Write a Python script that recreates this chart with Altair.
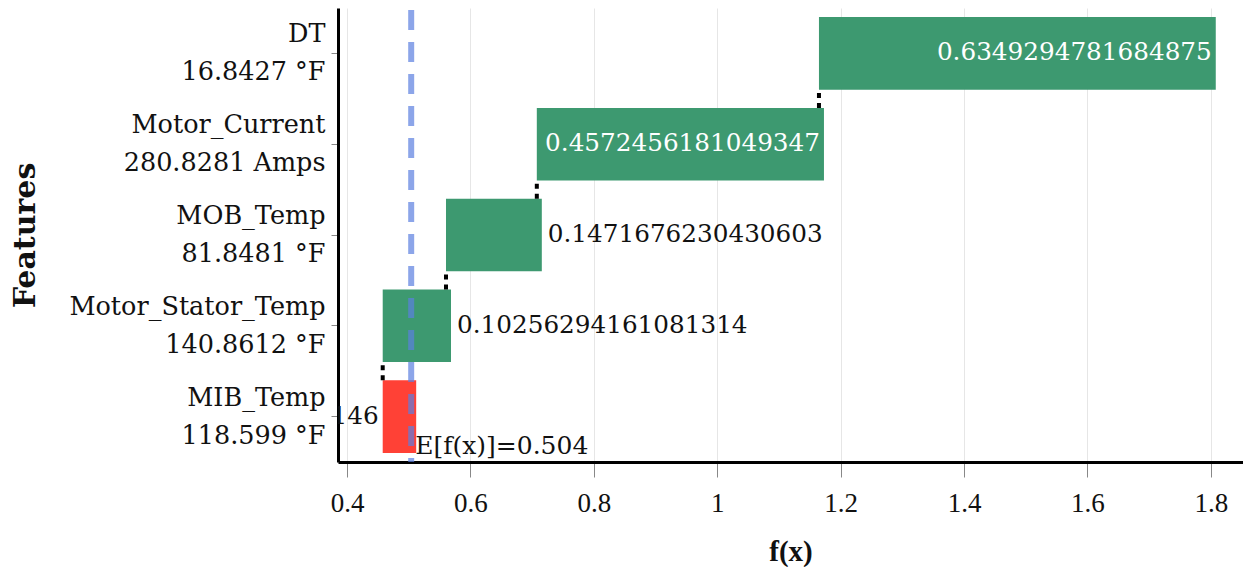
import altair as alt
import pandas as pd

features = ["DT", "Motor_Current", "MOB_Temp", "Motor_Stator_Temp", "MIB_Temp"]
feature_values = ["16.8427 °F", "280.8281 Amps", "81.8481 °F", "140.8612 °F", "118.599 °F"]
shap_values = [0.6349294781684875, 0.4572456181049347, 0.1471676230430603,
               0.10256294161081314, -0.04614762391011146]
base_value = 0.504
x_ticks = [0.4, 0.6, 0.8, 1.0, 1.2, 1.4, 1.6, 1.8]

GREEN = "#3D9970"
RED = "#FF4136"
SERIF = "DejaVu Serif"

# waterfall accumulates from the bottom feature upwards
rows = []
cur = base_value
for f, fv, s in reversed(list(zip(features, feature_values, shap_values))):
    start, end = cur, cur + s
    cur = end
    if abs(s) > 0.3:
        pos = "inside"
    elif s >= 0:
        pos = "right"
    else:
        pos = "left"
    rows.append({
        "feature": f,
        "shap": s,
        "text": repr(s),
        "start": start,
        "end": end,
        "lo": min(start, end),
        "hi": max(start, end),
        "sign": "pos" if s >= 0 else "neg",
        "pos": pos,
    })
df = pd.DataFrame(rows)

conn = pd.DataFrame([
    {"x": rows[i - 1]["end"], "low": rows[i - 1]["feature"], "high": rows[i]["feature"]}
    for i in range(1, len(rows))
])

expr_parts = [f"datum.value == '{f}' ? ['{f}', '{fv}']" for f, fv in zip(features, feature_values)]
label_expr = " : ".join(expr_parts) + " : datum.label"

xscale = alt.Scale(domain=[0.3854, 1.852], nice=False, zero=False)
yscale = alt.Scale(domain=features, paddingInner=0.2, paddingOuter=0.1)

x_axis = alt.Axis(
    title="f(x)", values=x_ticks, format=".1~f",
    labelFont="Liberation Serif", labelFontSize=27, labelColor="#111",
    labelPadding=13, tickSize=15, tickColor="#888", tickWidth=1,
    domainColor="#000", domainWidth=3, gridColor="#e6e6e6", gridWidth=1,
    titleFont="Liberation Serif", titleFontSize=29, titleFontWeight="bold",
    titleColor="#111", titleY=98, titleBaseline="alphabetic",
)
y_axis = alt.Axis(
    title="Features", labelExpr=label_expr,
    labelFont=SERIF, labelFontSize=25.5, labelColor="#111", labelLineHeight=38,
    labelOffset=-19, labelPadding=6, tickSize=7, tickColor="#888",
    domainColor="#000", domainWidth=3, grid=False, labelLimit=400,
    titleFont=SERIF, titleFontSize=30, titleFontWeight="bold", titleColor="#111",
    titleX=-313, titleY=227, titleAngle=270, titleAlign="center", titleBaseline="middle",
)

base = alt.Chart(df)

bars = base.mark_bar(opacity=1, x2Offset=5).encode(
    x=alt.X("lo:Q", scale=xscale, axis=x_axis),
    x2="hi:Q",
    y=alt.Y("feature:N", scale=yscale, axis=y_axis),
    color=alt.Color("sign:N", scale=alt.Scale(domain=["pos", "neg"], range=[GREEN, RED]), legend=None),
)

connectors = alt.Chart(conn).mark_rule(
    color="#000", strokeWidth=4, strokeDash=[5, 5]
).encode(
    x=alt.X("x:Q", scale=xscale),
    y=alt.Y("low:N", scale=yscale, bandPosition=0),
    y2=alt.Y2("high:N", bandPosition=1),
)

txt_inside = base.transform_filter("datum.pos == 'inside'").mark_text(
    align="right", baseline="middle", dx=1, font=SERIF, fontSize=24.7, color="white"
).encode(x=alt.X("hi:Q", scale=xscale), y=alt.Y("feature:N", scale=yscale), text="text:N")

txt_right = base.transform_filter("datum.pos == 'right'").mark_text(
    align="left", baseline="middle", dx=11, font=SERIF, fontSize=24.7, color="#111"
).encode(x=alt.X("hi:Q", scale=xscale), y=alt.Y("feature:N", scale=yscale), text="text:N")

txt_left = base.transform_filter("datum.pos == 'left'").mark_text(
    align="right", baseline="middle", dx=-4, font=SERIF, fontSize=24.7, color="#111", clip=True
).encode(x=alt.X("lo:Q", scale=xscale), y=alt.Y("feature:N", scale=yscale), text="text:N")

base_df = pd.DataFrame({"x": [base_value], "label": [f"E[f(x)]={base_value}"]})
base_rule = alt.Chart(base_df).mark_rule(
    color="#5b7fe0", opacity=0.7, strokeWidth=6, strokeDash=[20, 12]
).encode(x=alt.X("x:Q", scale=xscale), y=alt.value(2), y2=alt.value(454))

base_text = alt.Chart(base_df).mark_text(
    align="left", baseline="alphabetic", dx=4, font=SERIF, fontSize=25, color="#111"
).encode(x=alt.X("x:Q", scale=xscale), y=alt.value(446), text="label:N")

chart = alt.layer(
    bars, connectors, txt_inside, txt_right, txt_left, base_rule, base_text
).properties(
    width=905, height=454,
    background="white",
    autosize=alt.AutoSizeParams(type="none"),
    padding={"left": 330, "top": 0, "right": 0, "bottom": 105},
).configure_view(stroke=None)

chart.save("out.html", embed_options={"renderer": "svg", "actions": False})
